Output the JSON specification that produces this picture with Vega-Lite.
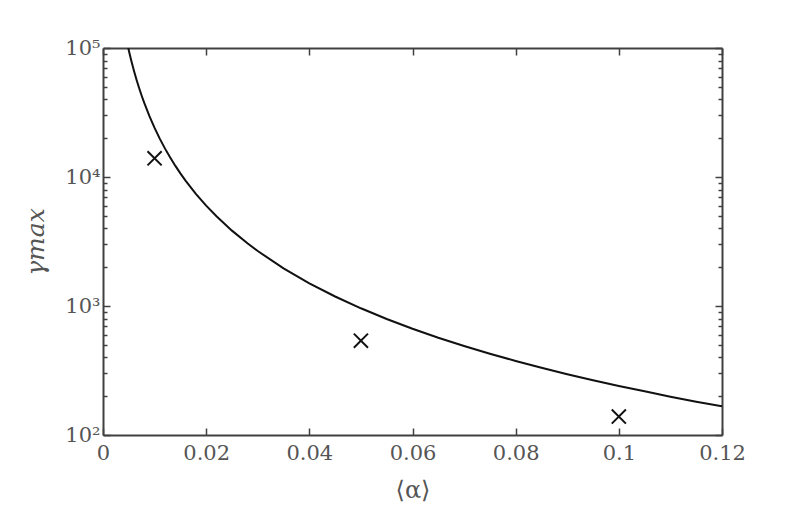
{
  "$schema": "https://vega.github.io/schema/vega-lite/v6.json",
  "width": 619,
  "height": 387,
  "autosize": {"type": "none"},
  "padding": {"left": 103, "top": 48, "right": 75, "bottom": 73},
  "background": "white",
  "config": {
    "view": {"stroke": null},
    "font": "DejaVu Serif",
    "axis": {
      "domainColor": "#404040",
      "domainWidth": 2,
      "tickColor": "#404040",
      "tickWidth": 1.5,
      "labelColor": "#555555",
      "titleColor": "#555555",
      "labelFont": "DejaVu Serif",
      "titleFont": "DejaVu Serif",
      "labelFontSize": 21,
      "titleFontSize": 24,
      "titleFontWeight": "normal",
      "grid": false,
      "labelOverlap": false,
      "labelFlush": false,
      "labelBound": false
    }
  },
  "datasets": {
    "curve": [
      {"alpha": 0.0049, "gamma": 99958},
      {"alpha": 0.0052, "gamma": 88757},
      {"alpha": 0.0055, "gamma": 79339},
      {"alpha": 0.006, "gamma": 66667},
      {"alpha": 0.0065, "gamma": 56805},
      {"alpha": 0.007, "gamma": 48980},
      {"alpha": 0.0075, "gamma": 42667},
      {"alpha": 0.008, "gamma": 37500},
      {"alpha": 0.009, "gamma": 29630},
      {"alpha": 0.01, "gamma": 24000},
      {"alpha": 0.011, "gamma": 19835},
      {"alpha": 0.012, "gamma": 16667},
      {"alpha": 0.013, "gamma": 14201},
      {"alpha": 0.014, "gamma": 12245},
      {"alpha": 0.015, "gamma": 10667},
      {"alpha": 0.016, "gamma": 9375},
      {"alpha": 0.018, "gamma": 7407},
      {"alpha": 0.02, "gamma": 6000},
      {"alpha": 0.022, "gamma": 4959},
      {"alpha": 0.025, "gamma": 3840},
      {"alpha": 0.028, "gamma": 3061},
      {"alpha": 0.03, "gamma": 2667},
      {"alpha": 0.035, "gamma": 1959},
      {"alpha": 0.04, "gamma": 1500},
      {"alpha": 0.045, "gamma": 1185},
      {"alpha": 0.05, "gamma": 960},
      {"alpha": 0.055, "gamma": 793},
      {"alpha": 0.06, "gamma": 667},
      {"alpha": 0.065, "gamma": 568},
      {"alpha": 0.07, "gamma": 490},
      {"alpha": 0.075, "gamma": 427},
      {"alpha": 0.08, "gamma": 375},
      {"alpha": 0.085, "gamma": 332},
      {"alpha": 0.09, "gamma": 296},
      {"alpha": 0.095, "gamma": 266},
      {"alpha": 0.1, "gamma": 240},
      {"alpha": 0.105, "gamma": 218},
      {"alpha": 0.11, "gamma": 198},
      {"alpha": 0.115, "gamma": 181},
      {"alpha": 0.12, "gamma": 167}
    ],
    "pts": [
      {"alpha": 0.01, "gamma": 13960},
      {"alpha": 0.05, "gamma": 538},
      {"alpha": 0.1, "gamma": 139}
    ]
  },
  "layer": [
    {
      "data": {"name": "curve"},
      "mark": {"type": "line", "color": "#111111", "strokeWidth": 2, "clip": true},
      "encoding": {
        "x": {
          "field": "alpha", "type": "quantitative",
          "scale": {"domain": [0, 0.12], "nice": false, "zero": false},
          "axis": {
            "orient": "bottom",
            "values": [0, 0.02, 0.04, 0.06, 0.08, 0.1, 0.12],
            "labelExpr": "format(datum.value, '~g')",
            "labelFontSize": 21,
            "tickSize": -7,
            "labelPadding": 14,
            "title": "⟨α⟩",
            "titleFontSize": 24,
            "titlePadding": 15
          }
        },
        "y": {
          "field": "gamma", "type": "quantitative",
          "scale": {"type": "log", "domain": [100, 100000], "nice": false},
          "axis": {
            "orient": "left",
            "values": [100, 200, 300, 400, 500, 600, 700, 800, 900, 1000, 2000, 3000, 4000, 5000, 6000, 7000, 8000, 9000, 10000, 20000, 30000, 40000, 50000, 60000, 70000, 80000, 90000, 100000],
            "labelExpr": "abs(log(datum.value)/LN10 - round(log(datum.value)/LN10)) < 0.001 ? '10' + ['⁰','¹','²','³','⁴','⁵'][round(log(datum.value)/LN10)] : ''",
            "labelFontSize": 21,
            "tickSize": {"condition": {"test": "abs(log(datum.value)/LN10 - round(log(datum.value)/LN10)) < 0.001", "value": -7}, "value": -4},
            "labelPadding": 10,
            "title": "γmax",
            "titleFontStyle": "italic",
            "titleFontSize": 25,
            "titlePadding": 16
          }
        }
      }
    },
    {
      "data": {"name": "pts"},
      "mark": {
        "type": "point",
        "shape": "M-1,-1L1,1M-1,1L1,-1",
        "filled": false,
        "stroke": "#111111",
        "strokeWidth": 2,
        "size": 200,
        "opacity": 1
      },
      "encoding": {
        "x": {
          "field": "alpha", "type": "quantitative",
          "axis": {
            "orient": "top",
            "values": [0, 0.02, 0.04, 0.06, 0.08, 0.1, 0.12],
            "labels": false,
            "tickSize": -7,
            "title": null
          }
        },
        "y": {
          "field": "gamma", "type": "quantitative",
          "axis": {
            "orient": "right",
            "values": [100, 200, 300, 400, 500, 600, 700, 800, 900, 1000, 2000, 3000, 4000, 5000, 6000, 7000, 8000, 9000, 10000, 20000, 30000, 40000, 50000, 60000, 70000, 80000, 90000, 100000],
            "labels": false,
            "tickSize": {"condition": {"test": "abs(log(datum.value)/LN10 - round(log(datum.value)/LN10)) < 0.001", "value": -7}, "value": -4},
            "title": null
          }
        }
      }
    }
  ],
  "resolve": {"axis": {"x": "independent", "y": "independent"}}
}
